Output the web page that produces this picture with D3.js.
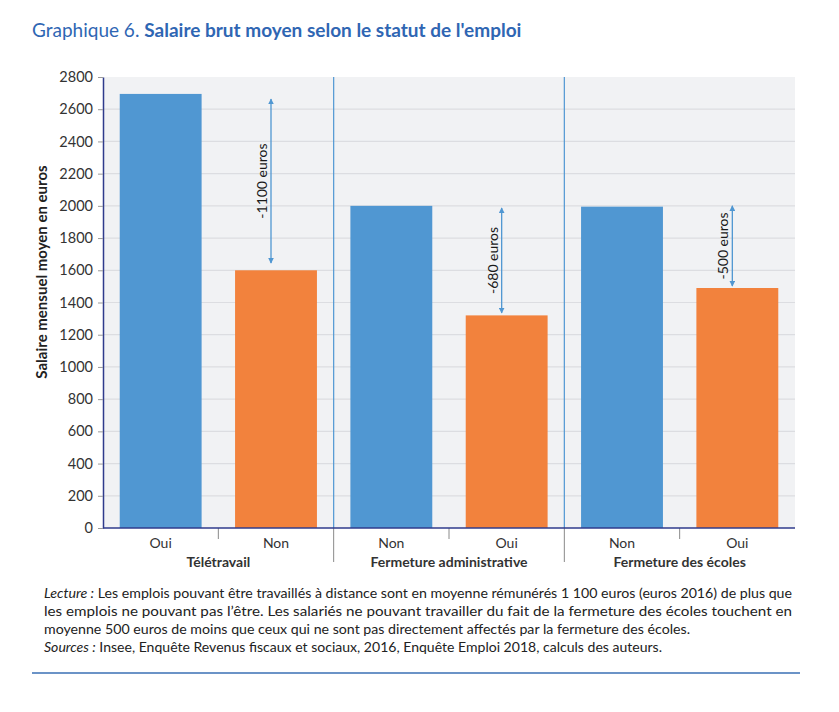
<!DOCTYPE html>
<html>
<head>
<meta charset="utf-8">
<script src="https://cdn.jsdelivr.net/npm/d3@7"></script>
<style>
  body { margin: 0; background: #fff; }
  svg { font-family: Lato, "Open Sans", sans-serif; }
</style>
</head>
<body>
<script>
// data
var groups = ["Télétravail", "Fermeture administrative", "Fermeture des écoles"];
var categories = ["Oui", "Non", "Non", "Oui", "Non", "Oui"];
var values = [2695, 1600, 2000, 1320, 1995, 1490];
var yTicks = [0, 200, 400, 600, 800, 1000, 1200, 1400, 1600, 1800, 2000, 2200, 2400, 2600, 2800];

// gap arrows drawn on the second bar of each group
var arrowLabels = ["-1100 euros", "-680 euros", "-500 euros"];
var arrowFrom = [2663, 1987, 2000];
var arrowTo = [1645, 1335, 1502];

var noteLines = [
  ["Lecture :", " Les emplois pouvant être travaillés à distance sont en moyenne rémunérés 1 100 euros (euros 2016) de plus que"],
  ["", "les emplois ne pouvant pas l’être. Les salariés ne pouvant travailler du fait de la fermeture des écoles touchent en"],
  ["", "moyenne 500 euros de moins que ceux qui ne sont pas directement affectés par la fermeture des écoles."],
  ["Sources :", " Insee, Enquête Revenus fiscaux et sociaux, 2016, Enquête Emploi 2018, calculs des auteurs."]
];
var noteWidths = [748, 748, 646, 618];

var W = 839, H = 712;
var margin = {top: 77, right: 44, bottom: 184, left: 103},
    width = W - margin.left - margin.right,
    height = H - margin.top - margin.bottom;

var blue = "#5097d2", orange = "#f2823d", navy = "#2f3b8c", titleBlue = "#2f66b3";

var svg = d3.select("body").append("svg")
    .attr("width", W)
    .attr("height", H);

// title
var title = svg.append("text")
    .attr("x", 32).attr("y", 37)
    .style("font-size", "19px")
    .style("fill", titleBlue);
title.append("tspan").text("Graphique 6. ");
title.append("tspan").style("font-weight", "bold").text("Salaire brut moyen selon le statut de l'emploi");

var g = svg.append("g")
    .attr("transform", "translate(" + margin.left + "," + margin.top + ")");

// scales
var x = d3.scaleBand()
    .domain(d3.range(categories.length))
    .range([0, width])
    .paddingInner(0.29)
    .paddingOuter(0.145);
var y = d3.scaleLinear().domain([0, 2800]).range([height, 0]);
var step = x.step();

// plot background
g.append("rect")
    .attr("width", width)
    .attr("height", height)
    .attr("fill", "#f1f2f4");

// gridlines
g.append("g")
  .selectAll("line")
  .data(yTicks.slice(1, -1))
  .join("line")
    .attr("x1", 0).attr("x2", width)
    .attr("y1", d => y(d)).attr("y2", d => y(d))
    .attr("stroke", "#dcdde1")
    .attr("stroke-width", 1.2);

// bars
g.append("g")
  .selectAll("rect")
  .data(values)
  .join("rect")
    .attr("x", (d, i) => x(i))
    .attr("y", d => y(d))
    .attr("width", x.bandwidth())
    .attr("height", d => height - y(d))
    .attr("fill", (d, i) => i % 2 === 0 ? blue : orange);

// group separators inside the plot
var sepX = [1, 3].map(i => x(i) + x.bandwidth() + x.paddingInner() * step / 2);
g.append("g")
  .selectAll("line")
  .data(sepX)
  .join("line")
    .attr("x1", d => d).attr("x2", d => d)
    .attr("y1", 0).attr("y2", height)
    .attr("stroke", blue)
    .attr("stroke-width", 1.2);

// separators below the axis: short between categories, long between groups
var below = [0, 2, 4].map(i => ({x: x(i) + x.bandwidth() + x.paddingInner() * step / 2, len: 11}))
  .concat(sepX.map(d => ({x: d, len: 34})));
g.append("g")
  .selectAll("line")
  .data(below)
  .join("line")
    .attr("x1", d => d.x).attr("x2", d => d.x)
    .attr("y1", height).attr("y2", d => height + d.len)
    .attr("stroke", "#8a8a8a")
    .attr("stroke-width", 1);

// y axis
var yAxis = g.append("g")
    .call(d3.axisLeft(y).tickValues(yTicks).tickFormat(d3.format("d"))
      .tickSize(5).tickSizeOuter(0).tickPadding(5));
yAxis.select(".domain").attr("stroke", navy).attr("stroke-width", 1.5);
yAxis.selectAll(".tick line").attr("stroke", "#9a9a9a");
yAxis.selectAll(".tick text")
    .style("font-size", "14.5px")
    .style("font-family", "Lato, sans-serif")
    .attr("fill", "#333");

// x axis line
g.append("line")
    .attr("x1", 0).attr("x2", width)
    .attr("y1", height).attr("y2", height)
    .attr("stroke", navy)
    .attr("stroke-width", 1.5);

// category labels
g.append("g")
  .selectAll("text")
  .data(categories)
  .join("text")
    .attr("x", (d, i) => x(i) + x.bandwidth() / 2)
    .attr("y", height + 20)
    .attr("text-anchor", "middle")
    .style("font-size", "14px")
    .attr("fill", "#333")
    .text(d => d);

// group labels
g.append("g")
  .selectAll("text")
  .data(groups)
  .join("text")
    .attr("x", (d, i) => (x(i * 2) + x(i * 2 + 1) + x.bandwidth()) / 2)
    .attr("y", height + 39)
    .attr("text-anchor", "middle")
    .style("font-size", "14px")
    .style("font-weight", "bold")
    .attr("fill", "#333")
    .text(d => d);

// y axis title
svg.append("text")
    .attr("transform", "translate(47,272) rotate(-90)")
    .attr("text-anchor", "middle")
    .style("font-size", "15px")
    .style("font-weight", "bold")
    .attr("fill", "#222")
    .text("Salaire mensuel moyen en euros");

// arrows
var defs = svg.append("defs");
defs.append("marker")
    .attr("id", "head")
    .attr("viewBox", "0 0 10 10")
    .attr("refX", 9).attr("refY", 5)
    .attr("markerWidth", 6).attr("markerHeight", 6)
    .attr("markerUnits", "userSpaceOnUse")
    .attr("orient", "auto-start-reverse")
  .append("path")
    .attr("d", "M0,0L10,5L0,10Z")
    .attr("fill", blue);

var arrows = g.append("g")
  .selectAll("g")
  .data(arrowLabels)
  .join("g");
arrows.append("line")
    .attr("x1", (d, i) => x(i * 2 + 1) + x.bandwidth() / 2 - 5)
    .attr("x2", (d, i) => x(i * 2 + 1) + x.bandwidth() / 2 - 5)
    .attr("y1", (d, i) => y(arrowFrom[i]))
    .attr("y2", (d, i) => y(arrowTo[i]))
    .attr("stroke", blue)
    .attr("stroke-width", 1.3)
    .attr("marker-start", "url(#head)")
    .attr("marker-end", "url(#head)");
arrows.append("text")
    .attr("transform", (d, i) => "translate(" + (x(i * 2 + 1) + x.bandwidth() / 2 - 9) + "," +
        ((y(arrowFrom[i]) + y(arrowTo[i])) / 2) + ") rotate(-90)")
    .attr("text-anchor", "middle")
    .style("font-size", "14px")
    .attr("fill", "#1a1a1a")
    .text(d => d);

// note under the chart
var note = svg.append("g")
  .selectAll("text")
  .data(noteLines)
  .join("text")
    .attr("x", 44)
    .attr("y", (d, i) => 598 + i * 18)
    .attr("textLength", (d, i) => noteWidths[i])
    .attr("lengthAdjust", "spacingAndGlyphs")
    .style("font-size", "13px")
    .attr("fill", "#222");
note.append("tspan").style("font-style", "italic").text(d => d[0]);
note.append("tspan").text(d => d[1]);

// bottom rule
svg.append("line")
    .attr("x1", 32).attr("x2", 800)
    .attr("y1", 673).attr("y2", 673)
    .attr("stroke", "#3a6fb5")
    .attr("stroke-width", 1.3);
</script>
</body>
</html>
